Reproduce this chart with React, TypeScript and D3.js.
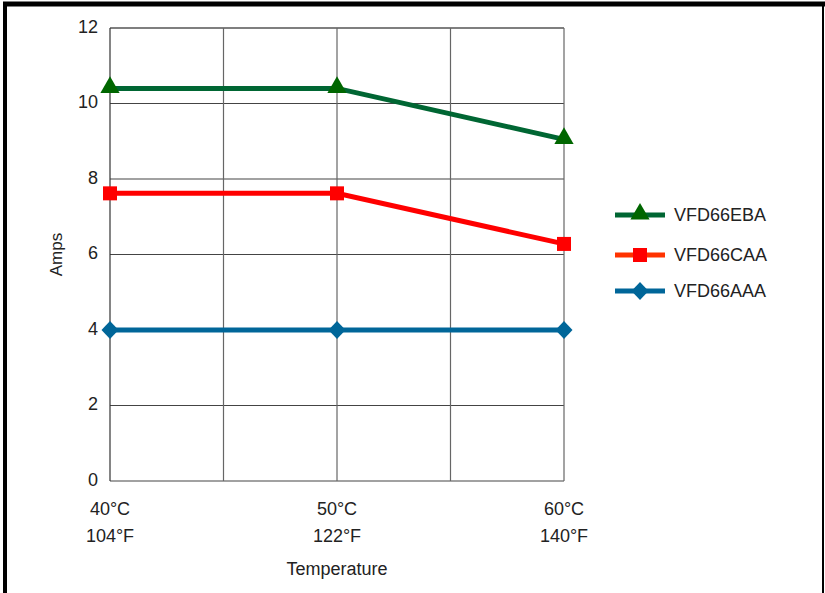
import React from "react";
import * as d3 from "d3";

const categories = [40, 50, 60];
const celsiusLabels = ["40°C", "50°C", "60°C"];
const fahrenheitLabels = ["104°F", "122°F", "140°F"];
const yTicks = [0, 2, 4, 6, 8, 10, 12];
const xGrid = [40, 45, 50, 55, 60];
const seriesNames = ["VFD66EBA", "VFD66CAA", "VFD66AAA"];
const ebaValues = [10.4, 10.4, 9.05];
const caaValues = [7.62, 7.62, 6.28];
const aaaValues = [4.0, 4.0, 4.0];

const W = 825, H = 593;
const left = 110, right = 564, top = 28, bottom = 481;

export default function App() {
  const x = d3.scaleLinear().domain([40, 60]).range([left, right]);
  const y = d3.scaleLinear().domain([0, 12]).range([bottom, top]);
  const line = d3.line<number>().x((_, i) => x(categories[i])).y((d) => y(d));

  const series = [
    { name: seriesNames[0], values: ebaValues, color: "#006633", marker: "#006600", legendLine: "#006633", shape: "tri" },
    { name: seriesNames[1], values: caaValues, color: "#ff0000", marker: "#ff0000", legendLine: "#ff3300", shape: "sq" },
    { name: seriesNames[2], values: aaaValues, color: "#006699", marker: "#006699", legendLine: "#006699", shape: "dia" },
  ];

  const marker = (shape: string, cx: number, cy: number, fill: string, key: any) => {
    if (shape === "tri") {
      const p = d3.symbol().type(d3.symbolTriangle).size(160)();
      return <path key={key} d={p || ""} transform={`translate(${cx},${cy - 1})`} fill={fill} />;
    }
    if (shape === "sq") {
      return <rect key={key} x={cx - 7} y={cy - 7} width={14} height={14} fill={fill} />;
    }
    return <path key={key} d={`M0,-9L8.5,0L0,9L-8.5,0Z`} transform={`translate(${cx},${cy})`} fill={fill} />;
  };

  const legendRows = [215, 255, 291];
  const fs = 18;

  return (
    <svg width={W} height={H} style={{ position: "absolute", left: 0, top: 0 }} fontFamily="Liberation Sans, Arial, sans-serif">
      <rect x={0} y={0} width={W} height={H} fill="#fff" />
      {/* outer frame */}
      <line x1={3} y1={4} x2={825} y2={4} stroke="#000" strokeWidth={5} />
      <line x1={5} y1={2} x2={5} y2={593} stroke="#000" strokeWidth={4} />
      <line x1={823} y1={2} x2={823} y2={593} stroke="#000" strokeWidth={2} />

      {/* grid */}
      {yTicks.map((t) => (
        <line key={"h" + t} x1={left} x2={right} y1={y(t)} y2={y(t)} stroke={t === 12 ? "#000" : "#444"} strokeWidth={1.2} />
      ))}
      {xGrid.map((g) => (
        <line key={"v" + g} x1={x(g)} x2={x(g)} y1={top} y2={bottom} stroke={g === 40 ? "#333" : "#666"} strokeWidth={1.2} />
      ))}

      {/* y tick labels */}
      {yTicks.map((t) => (
        <text key={"yl" + t} x={98} y={y(t)} dy="0.27em" textAnchor="end" fontSize={fs} fill="#222">{t}</text>
      ))}
      <text transform={`translate(62,${(top + bottom) / 2}) rotate(-90)`} textAnchor="middle" fontSize={17} fill="#222">Amps</text>

      {/* x labels */}
      {categories.map((c, i) => (
        <g key={"xl" + c}>
          <text x={x(c)} y={515} textAnchor="middle" fontSize={fs} fill="#222">{celsiusLabels[i]}</text>
          <text x={x(c)} y={542} textAnchor="middle" fontSize={fs} fill="#222">{fahrenheitLabels[i]}</text>
        </g>
      ))}
      <text x={x(50)} y={575} textAnchor="middle" fontSize={fs} fill="#222">Temperature</text>

      {/* series */}
      {series.map((s) => (
        <g key={s.name}>
          <path d={line(s.values) || ""} fill="none" stroke={s.color} strokeWidth={5} />
          {s.values.map((v, i) => marker(s.shape, x(categories[i]), y(v), s.marker, i))}
        </g>
      ))}

      {/* legend */}
      {series.map((s, i) => (
        <g key={"lg" + s.name}>
          <line x1={615} x2={665} y1={legendRows[i]} y2={legendRows[i]} stroke={s.legendLine} strokeWidth={5} />
          {marker(s.shape, 640, legendRows[i], s.marker, "m")}
          <text x={674} y={legendRows[i]} dy="0.36em" fontSize={fs} fill="#222">{s.name}</text>
        </g>
      ))}
    </svg>
  );
}
